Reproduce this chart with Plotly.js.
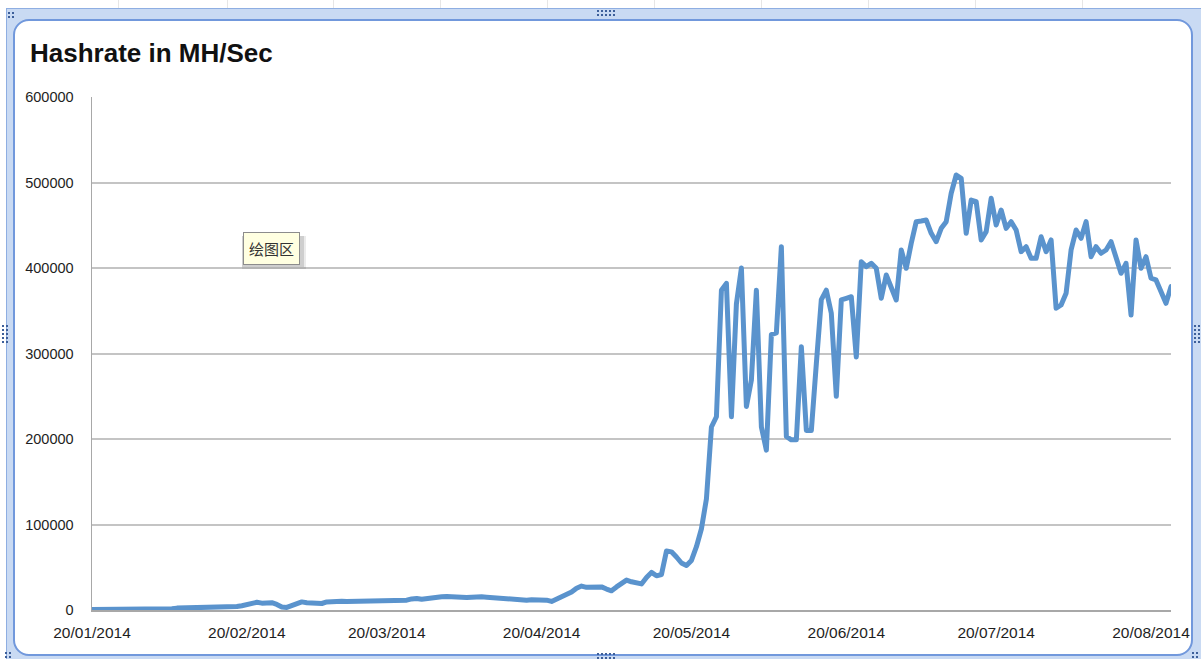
<!DOCTYPE html>
<html>
<head>
<meta charset="utf-8">
<script src="https://cdn.plot.ly/plotly-3.0.1.min.js"></script>
<style>
  html, body { margin: 0; padding: 0; background: #fff; }
  #sheet {
    position: absolute; left: 0; top: 0; width: 1201px; height: 659px; overflow: hidden;
    background: #fff;
  }
  .col { position: absolute; top: 0; width: 1px; height: 20px; background: #e6e6e6; }
  #band {
    position: absolute; left: 6px; top: 8px; width: 1195px; height: 651px;
    background: #c9daf3; border-left: 1px solid #8eaee2; border-top: 1px solid #8eaee2;
  }
  #card {
    position: absolute; left: 13px; top: 19px; width: 1176px; height: 633px;
    background: #fff; border: 2px solid #7198dc; border-radius: 16px;
  }
  .grip {
    position: absolute;
    background: radial-gradient(circle, #3d5f9a 0.9px, transparent 1.3px) 0 0 / 4px 4px;
  }
  #chart { position: absolute; left: 0; top: 0; width: 1201px; height: 659px; }
  #chart path.js-line { stroke-linejoin: round; stroke-linecap: round; }
</style>
</head>
<body>
<div id="sheet">
  <div class="col" style="left:118px"></div>
  <div class="col" style="left:227px"></div>
  <div class="col" style="left:333px"></div>
  <div class="col" style="left:440px"></div>
  <div class="col" style="left:547px"></div>
  <div class="col" style="left:654px"></div>
  <div class="col" style="left:761px"></div>
  <div class="col" style="left:868px"></div>
  <div class="col" style="left:975px"></div>
  <div class="col" style="left:1082px"></div>
  <div id="band"></div>
  <div id="card"></div>
  <div class="grip" style="left:7px;top:11px;width:8px;height:8px;"></div>
  <div class="grip" style="left:596px;top:9px;width:20px;height:8px;"></div>
  <div class="grip" style="left:596px;top:652px;width:20px;height:7px;"></div>
  <div class="grip" style="left:1px;top:324px;width:8px;height:20px;"></div>
  <div class="grip" style="left:1193px;top:324px;width:8px;height:20px;"></div>
  <div class="grip" style="left:1191px;top:651px;width:8px;height:8px;"></div>
  <div class="grip" style="left:4px;top:651px;width:8px;height:8px;"></div>
  <div id="chart"></div>
</div>
<script>
// Daily network hashrate (MH/s), one value per day starting 20 Jan 2014
const firstDay = [2014, 0, 20];
const hashrate = [
  700, 700, 750, 750, 800, 800, 800, 850, 850, 900,
  900, 950, 950, 1000, 1000, 1100, 1500, 2200, 2400, 2500,
  2500, 2400, 2500, 2600, 2500, 2600, 2700, 2800, 3200, 4000,
  5000, 6000, 7500, 9000, 8000, 7800, 8500, 6500, 3500, 3000,
  5000, 6500, 9500, 8500, 8000, 7600, 7600, 9500, 10000, 10000,
  10100, 10000, 10100, 10200, 10100, 10200, 10300, 10200, 10300, 10200,
  10300, 10400, 10500, 11500, 13000, 13500, 12500, 13500, 14500, 15000,
  15500, 15800, 15500, 14500, 13800, 14500, 15000, 15600, 15400, 15000,
  14600, 14000, 13600, 13000, 12500, 11500, 11000, 11500, 12000, 12200,
  12000, 11500, 10000, 12500, 16000, 19000, 21000, 25500, 28000, 26500,
  27000, 27500, 27000, 24500, 22500, 27000, 31000, 35000, 33000, 31000,
  30500, 38000, 44000, 40000, 41500, 69000, 68000, 62000, 55000, 52000,
  58000, 74000, 95000, 130000, 214000, 226000, 374000, 382000, 226000, 358000,
  400000, 238000, 269000, 374000, 214000, 187000, 322000, 324000, 425000, 203000,
  199000, 199000, 308000, 210000, 210000, 288000, 363000, 374000, 347000, 250000,
  362600, 364500, 366400, 296000, 407400, 401600, 405500, 399700, 364600, 391800,
  378200, 362600, 421100, 399700, 428900, 454200, 455000, 456100, 440600, 430800,
  446400, 454200, 487400, 508800, 504900, 440600, 479500, 477600, 432800, 442500,
  481500, 450300, 467800, 446400, 454200, 444400, 419100, 424900, 411300, 411300,
  436600, 419100, 432800, 352900, 356700, 370400, 421100, 444400, 434700, 454200,
  413200, 424900, 417200, 421100, 430800, 413200, 393800, 405500, 345000, 432800,
  399700, 413200, 388000, 386000, 370400, 358700, 378200
];
const dates = hashrate.map((_, i) =>
  new Date(Date.UTC(firstDay[0], firstDay[1], firstDay[2] + i)).toISOString().slice(0, 10));

const tickDates = ['2014-01-20', '2014-02-20', '2014-03-20', '2014-04-20',
                   '2014-05-20', '2014-06-20', '2014-07-20', '2014-08-20'];
const tickLabels = ['20/01/2014', '20/02/2014', '20/03/2014', '20/04/2014',
                    '20/05/2014', '20/06/2014', '20/07/2014', '20/08/2014'];
const yTicks = [0, 100000, 200000, 300000, 400000, 500000, 600000];

const W = 1201, H = 659;
const M = { l: 92, r: 30, t: 97, b: 49 };
// convert page pixels to paper fractions for the overlay tooltip
const px = x => (x - M.l) / (W - M.l - M.r);
const py = y => (H - M.b - y) / (H - M.t - M.b);

const trace = {
  type: 'scatter', mode: 'lines',
  x: dates, y: hashrate,
  line: { color: '#5a93cd', width: 5 },
  hoverinfo: 'skip'
};

const tickFont = { family: 'Liberation Sans, Arial, sans-serif', color: '#1e1e1e' };

const layout = {
  width: W, height: H,
  margin: M,
  paper_bgcolor: 'rgba(0,0,0,0)',
  plot_bgcolor: 'rgba(0,0,0,0)',
  showlegend: false,
  hovermode: false,
  title: {
    text: '<b>Hashrate in MH/Sec</b>',
    font: { family: 'Liberation Sans, Arial, sans-serif', size: 26, color: '#111' },
    xref: 'container', yref: 'container',
    x: 30 / W, xanchor: 'left',
    y: 1 - 53 / H, yanchor: 'middle'
  },
  xaxis: {
    type: 'date',
    range: ['2014-01-20', '2014-08-24'],
    tickmode: 'array', tickvals: tickDates, ticktext: tickLabels,
    tickfont: Object.assign({ size: 15.5 }, tickFont),
    ticks: '', ticklabelstandoff: 8,
    showgrid: false, zeroline: false,
    showline: true, linecolor: '#a8a8a8', linewidth: 1.5
  },
  yaxis: {
    range: [0, 600000],
    tickmode: 'array', tickvals: yTicks,
    tickformat: 'd',
    tickfont: Object.assign({ size: 14.5 }, tickFont),
    ticks: '', ticklabelstandoff: 14,
    showgrid: true, gridcolor: '#c4c4c4', gridwidth: 2,
    zeroline: false,
    showline: true, linecolor: '#a8a8a8', linewidth: 1.5
  },
  shapes: [
    { type: 'rect', xref: 'paper', yref: 'paper', layer: 'above',
      x0: px(242), x1: px(306), y0: py(236), y1: py(269),
      fillcolor: 'rgba(0,0,0,0.08)', line: { width: 0 } },
    { type: 'rect', xref: 'paper', yref: 'paper', layer: 'above',
      x0: px(242), x1: px(304), y0: py(236), y1: py(267),
      fillcolor: 'rgba(0,0,0,0.12)', line: { width: 0 } }
  ],
  annotations: [
    { xref: 'paper', yref: 'paper', x: px(271), y: py(248.5),
      xanchor: 'center', yanchor: 'middle', showarrow: false,
      text: '绘图区',
      font: { family: 'Noto Sans CJK SC', size: 15, color: '#333' },
      bgcolor: '#ffffe1', bordercolor: '#8c8c8c', borderwidth: 1, borderpad: 5 }
  ]
};

Plotly.newPlot('chart', [trace], layout, { staticPlot: true, displayModeBar: false });
</script>
</body>
</html>
